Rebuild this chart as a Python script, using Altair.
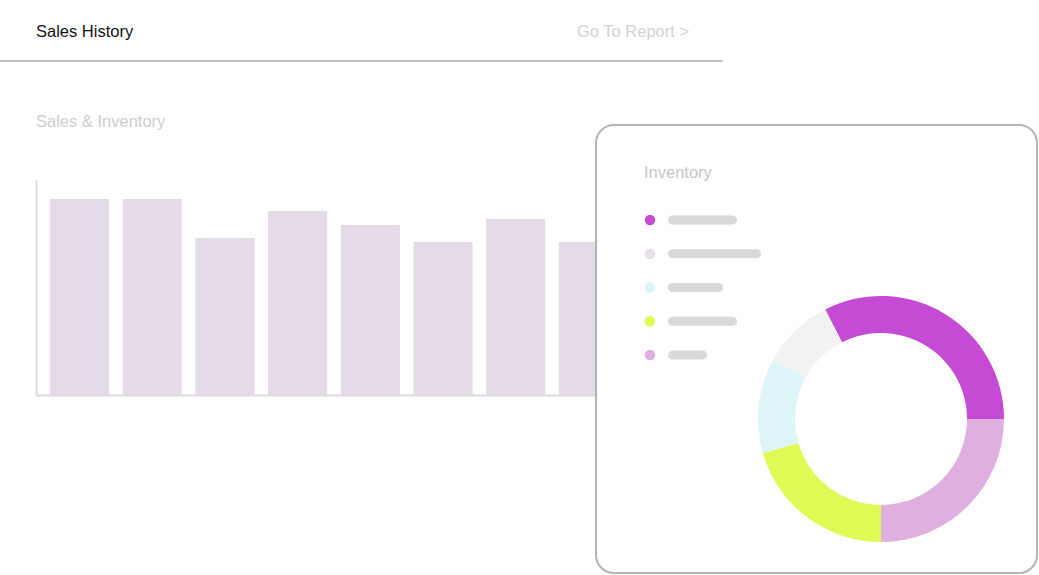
import math
import altair as alt
import pandas as pd

# ---- data ----
bar_labels = ["P1", "P2", "P3", "P4", "P5", "P6", "P7", "P8"]
bar_values = [98, 98, 78.5, 92, 85, 76.5, 88, 76.5]

legend_rows = [0, 1, 2, 3, 4]
legend_colors = ["#c64bd4", "#e9dfea", "#ddf4f9", "#dffa55", "#dfafe0"]
legend_placeholder_widths = [69, 93, 55, 69, 39]

slice_order = [0, 1, 2, 3, 4]
slice_values = [32.5, 25, 20.5, 12.5, 9.5]
slice_colors = ["#c64bd4", "#dfafe0", "#dffa55", "#ddf4f9", "#f2f2f2"]

W, H = 1039, 575
FONT = "Liberation Sans"
one = alt.Data(values=[{}])

bars_df = pd.DataFrame({"label": bar_labels, "value": bar_values})
legend_df = pd.DataFrame({"row": legend_rows, "color": legend_colors,
                          "w": legend_placeholder_widths})
donut_df = pd.DataFrame({"i": slice_order, "v": slice_values, "color": slice_colors})


def text(t, x, y, color, size=16.5):
    return alt.Chart(one).mark_text(
        text=t, x=x, y=y, align="left", baseline="alphabetic",
        font=FONT, fontSize=size, color=color
    )


header_title = text("Sales History", 36, 37, "#111111")
header_link = text("Go To Report >", 577, 37, "#d2d2d2")
header_rule = alt.Chart(one).mark_rule(color="#c2c2c2", strokeWidth=2).encode(
    x=alt.value(0), x2=alt.value(723), y=alt.value(61)
)
sub_title = text("Sales & Inventory", 36, 127, "#cdcdcd")

bars = alt.Chart(bars_df).mark_bar(color="#e5dae7").encode(
    x=alt.X("label:N", sort=bar_labels,
            scale=alt.Scale(range=[36, 632], paddingInner=0.188, paddingOuter=0.193),
            axis=alt.Axis(orient="bottom", offset=-180, labels=False, ticks=False,
                          title=None, grid=False, domainColor="#dcdcdc", domainWidth=2)),
    y=alt.Y("value:Q", scale=alt.Scale(domain=[0, 107.5], range=[395, 180], nice=False),
            axis=alt.Axis(orient="left", offset=-36, labels=False, ticks=False,
                          title=None, grid=False, domainColor="#dcdcdc", domainWidth=2)),
)

card = alt.Chart(one).mark_rect(
    fill="white", stroke="#b4b4b4", strokeWidth=2, cornerRadius=18
).encode(x=alt.value(596), x2=alt.value(1037), y=alt.value(125), y2=alt.value(573))

card_title = text("Inventory", 644, 178, "#c6c6c6")

legend_y = alt.Y("row:Q", scale=alt.Scale(domain=[0, 4], range=[220, 355], nice=False,
                                           zero=False), axis=None)
legend_dots = alt.Chart(legend_df).mark_circle(size=110, opacity=1, x=650).encode(
    y=legend_y,
    color=alt.Color("color:N", scale=None),
)
legend_pills = alt.Chart(legend_df).transform_calculate(
    start="4.5", end="datum.w - 4.5"
).mark_rule(color="#d9d9d9", strokeWidth=9, strokeCap="round").encode(
    x=alt.X("start:Q", scale=alt.Scale(domain=[0, 100], range=[668, 768], nice=False,
                                       zero=False), axis=None),
    x2="end:Q",
    y=legend_y,
)

start = math.radians(333)
donut = alt.Chart(donut_df).mark_arc(
    innerRadius=86, outerRadius=123, x=881, y=419
).encode(
    theta=alt.Theta("v:Q", stack=True,
                    scale=alt.Scale(domain=[0, 100], range=[start, start + 2 * math.pi])),
    color=alt.Color("color:N", scale=None),
    order=alt.Order("i:Q"),
)

chart = alt.layer(
    header_title, header_link, header_rule, sub_title, bars,
    card, card_title, legend_pills, legend_dots, donut
).resolve_scale(
    x="independent", y="independent", color="independent", theta="independent"
).resolve_axis(x="independent", y="independent").properties(
    width=W, height=H, padding=0, autosize=alt.AutoSizeParams(type="none"),
    background="white"
).configure_view(stroke=None)

chart.save("out.html", embed_options={"renderer": "svg", "actions": False})
